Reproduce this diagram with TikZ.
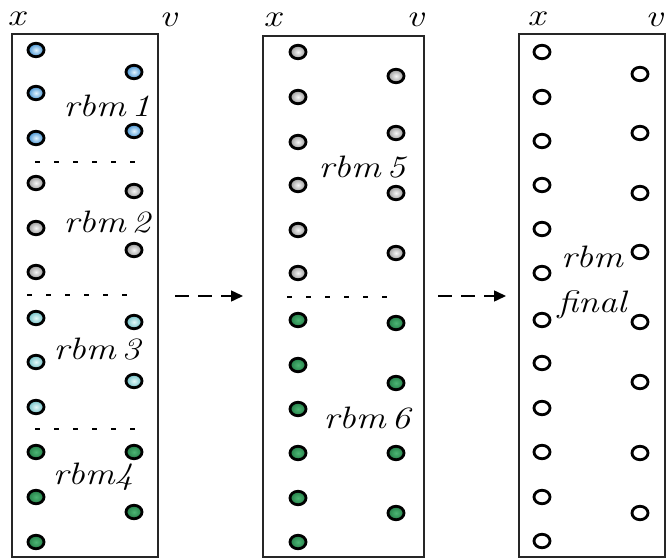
\documentclass[tikz,border=0pt]{standalone}
\usetikzlibrary{shapes.geometric,arrows.meta}
\definecolor{bluO}{HTML}{3F8FD0}
\definecolor{bluI}{HTML}{E2F4FF}
\definecolor{gryO}{HTML}{969696}
\definecolor{gryI}{HTML}{F6F6F6}
\definecolor{telO}{HTML}{6CBEC4}
\definecolor{telI}{HTML}{E4F8F8}
\definecolor{grnO}{HTML}{237F48}
\definecolor{grnI}{HTML}{4DB574}
\newcommand\hw[1]{\scalebox{1.2}[1]{\fontsize{31}{33}\selectfont\itshape #1}}
\newcommand\hwxv[1]{\scalebox{1.25}[1]{\fontsize{31}{33}\selectfont\itshape #1}}
\tikzset{
  dot/.style={ellipse,draw=black,line width=2.8pt,minimum width=16pt,minimum height=13.5pt,inner sep=0pt},
  bdot/.style={dot,inner color=bluI,outer color=bluO},
  gdot/.style={dot,inner color=gryI,outer color=gryO},
  tdot/.style={dot,inner color=telI,outer color=telO},
  ndot/.style={dot,inner color=grnI,outer color=grnO},
  wdot/.style={dot,fill=white},
  panel/.style={draw=black!85,line width=1.6pt,inner sep=0pt},
  sep/.style={line width=2.8pt,dash pattern=on 5pt off 14pt},
  flow/.style={line width=1.5pt,dash pattern=on 14pt off 9pt,-{Triangle[length=12pt,width=11pt]}},
  lbl/.style={inner sep=0pt}
}
\begin{document}
\begin{tikzpicture}[x=1pt,y=-1pt]
\useasboundingbox[fill=white] (0,0) rectangle (666,559);
% panels
\node[panel,minimum width=146pt,minimum height=523pt] (p1) at (85,295.5) {};
\node[panel,minimum width=161pt,minimum height=521pt] (p2) at (343.5,296.5) {};
\node[panel,minimum width=146pt,minimum height=523pt] (p3) at (592,295.5) {};
% x / v labels
\node[lbl] (x1) at (16,19) {\hwxv{x}};
\node[lbl] (v1) at (168,20) {\hwxv{v}};
\node[lbl] (x2) at (272,20) {\hwxv{x}};
\node[lbl] (v2) at (415,20) {\hwxv{v}};
\node[lbl] (x3) at (536,19) {\hwxv{x}};
\node[lbl] (v3) at (654,20) {\hwxv{v}};
% panel 1 left column
\foreach \y [count=\i] in {50,93,138}{\node[bdot] (a1l\i) at (36,\y) {};}
\foreach \y [count=\i] in {183,228,272}{\node[gdot] (b1l\i) at (36,\y) {};}
\foreach \y [count=\i] in {318,362,407}{\node[tdot] (c1l\i) at (36,\y) {};}
\foreach \y [count=\i] in {452,497,542}{\node[ndot] (d1l\i) at (36,\y) {};}
% panel 1 right column
\foreach \y [count=\i] in {72,131}{\node[bdot] (a1r\i) at (134,\y) {};}
\foreach \y [count=\i] in {191,250}{\node[gdot] (b1r\i) at (134,\y) {};}
\foreach \y [count=\i] in {322,381}{\node[tdot] (c1r\i) at (134,\y) {};}
\foreach \y [count=\i] in {452,512}{\node[ndot] (d1r\i) at (134,\y) {};}
% panel 2
\foreach \y [count=\i] in {52,97,142,185,230,273}{\node[gdot] (b2l\i) at (298,\y) {};}
\foreach \y [count=\i] in {320,365,409,453,498,542}{\node[ndot] (d2l\i) at (298,\y) {};}
\foreach \y [count=\i] in {76,133,193,253}{\node[gdot] (b2r\i) at (396,\y) {};}
\foreach \y [count=\i] in {323,383,453,513}{\node[ndot] (d2r\i) at (396,\y) {};}
% panel 3
\foreach \y [count=\i] in {52,97,141,185,229,273,320,363,408,452,497,541}{\node[wdot] (w3l\i) at (542,\y) {};}
\foreach \y [count=\i] in {74,133,193,252,322,382,453,513}{\node[wdot] (w3r\i) at (640,\y) {};}
% separators
\coordinate (s1a) at (35,162); \coordinate (s1b) at (140,162);
\coordinate (s2a) at (27,295); \coordinate (s2b) at (132,295);
\coordinate (s3a) at (35,429); \coordinate (s3b) at (140,429);
\coordinate (s4a) at (287,297); \coordinate (s4b) at (392,297);
\draw[sep] (s1a) -- (s1b);
\draw[sep] (s2a) -- (s2b);
\draw[sep] (s3a) -- (s3b);
\draw[sep] (s4a) -- (s4b);
% rbm labels
\node[lbl] (r1) at (107,106) {\hw{rbm\,1}};
\node[lbl] (r2) at (107,222) {\hw{rbm\,2}};
\node[lbl] (r3) at (97,349) {\hw{rbm\,3}};
\node[lbl] (r4) at (93,477) {\hw{rbm4}};
\node[lbl] (r5) at (362,167) {\hw{rbm\,5}};
\node[lbl] (r6) at (367,418) {\hw{rbm\,6}};
\node[lbl] (r7) at (592,257) {\hw{rbm}};
\node[lbl] (r8) at (592,305) {\hw{final}};
% arrows
\coordinate (f1s) at (175,296); \coordinate (f1e) at (243,296);
\coordinate (f2s) at (438,296); \coordinate (f2e) at (506,296);
\draw[flow] (f1s) -- (f1e);
\draw[flow] (f2s) -- (f2e);
\end{tikzpicture}
\end{document}
